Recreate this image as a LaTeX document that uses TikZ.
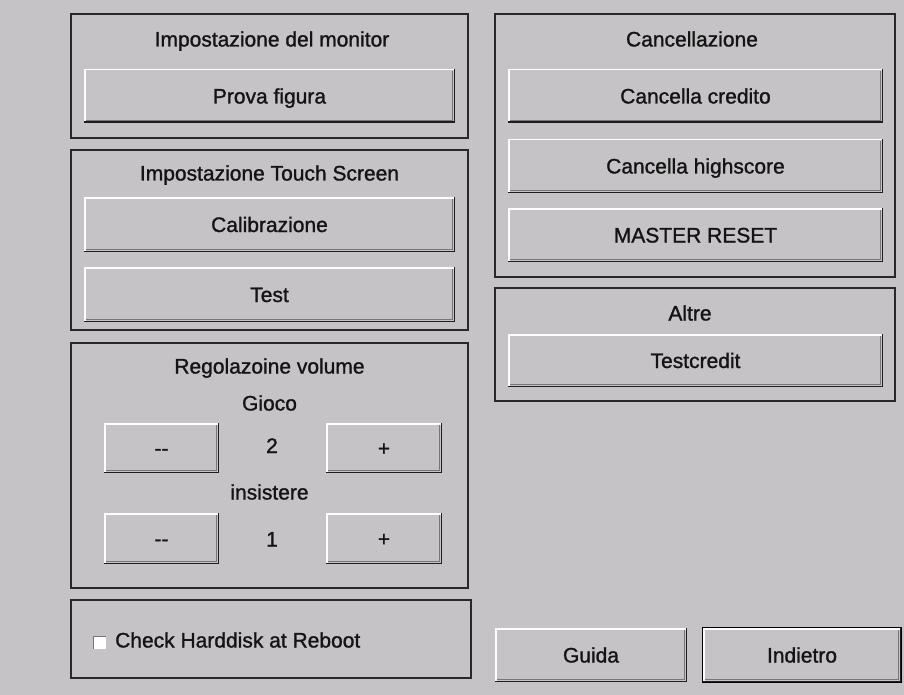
\documentclass[tikz,border=0pt]{standalone}
\usepackage{fontspec}
\setmainfont{Liberation Sans}[FakeBold=1.2]
\definecolor{bg}{RGB}{198,195,198}
\definecolor{dk}{RGB}{30,30,30}
\definecolor{md}{RGB}{120,118,120}
\definecolor{fr}{RGB}{40,40,40}
\begin{document}
\begin{tikzpicture}[x=1pt,y=-1pt,
  font=\fontsize{21}{25}\selectfont,
  frame/.style={draw=fr, line width=1.5pt, inner sep=0pt, outer sep=0pt},
  btn/.style={fill=bg, inner sep=0pt, outer sep=0pt, text height=15pt, text depth=0pt, text=black!92},
  lbl/.style={inner sep=0pt, text height=15pt, text depth=0pt, text=black!92}]
\fill[bg] (0,0) rectangle (904,695);
\useasboundingbox (0,0) rectangle (904,695);

% frames
\node[frame, minimum width=397, minimum height=124] (f1) at (269.5,76) {};
\node[frame, minimum width=397, minimum height=180] (f2) at (269.5,240) {};
\node[frame, minimum width=397, minimum height=245] (f3) at (269.5,465.5) {};
\node[frame, minimum width=400, minimum height=78] (f4) at (271,639) {};
\node[frame, minimum width=400, minimum height=263] (f5) at (695,145.5) {};
\node[frame, minimum width=400, minimum height=113] (f6) at (695,344.5) {};

% titles
\node[lbl] (t1) at (272,39) {Impostazione del monitor};
\node[lbl] (t2) at (269.5,173) {Impostazione Touch Screen};
\node[lbl] (t3) at (269.5,366) {Regolazoine volume};
\node[lbl] (t3a) at (269.5,403) {Gioco};
\node[lbl] (t3b) at (269.5,492) {insistere};
\node[lbl] (v1) at (272,445.5) {2};
\node[lbl] (v2) at (272,539) {1};
\node[lbl] (t5) at (692,39) {Cancellazione};
\node[lbl] (t6) at (690,313) {Altre};

% buttons
\node[btn, minimum width=371, minimum height=54] (prova) at (269.5,96) {Prova figura};
\node[btn, minimum width=371, minimum height=55] (calib) at (269.5,224.5) {Calibrazione};
\node[btn, minimum width=371, minimum height=55] (test) at (269.5,294.5) {Test};
\node[btn, minimum width=115, minimum height=50] (m1) at (161.5,448) {-\kern0pt-};
\node[btn, minimum width=116, minimum height=50] (p1) at (384,448) {+};
\node[btn, minimum width=115, minimum height=51] (m2) at (161.5,538.5) {-\kern0pt-};
\node[btn, minimum width=116, minimum height=51] (p2) at (384,538.5) {+};
\node[btn, minimum width=375, minimum height=54] (cc) at (695.5,96) {Cancella credito};
\node[btn, minimum width=375, minimum height=54] (ch) at (695.5,166) {Cancella highscore};
\node[btn, minimum width=375, minimum height=54] (mr) at (695.5,235) {MASTER RESET};
\node[btn, minimum width=375, minimum height=53] (tc) at (695.5,360.5) {Testcredit};
\node[btn, minimum width=192, minimum height=54] (guida) at (591,655) {Guida};
\node[btn, minimum width=198, minimum height=54] (ind) at (802,655) {Indietro};

% default button outline
\draw[black, line width=1.2pt] ([shift={(-0.6pt,-0.6pt)}]ind.south west) rectangle ([shift={(0.6pt,0.6pt)}]ind.north east);

% bevels
\foreach \n in {prova,calib,test,m1,p1,m2,p2,cc,ch,mr,tc,guida,ind}{
  \draw[white, line width=1.5pt]
    ([shift={(0.75pt,1.5pt)}]\n.south west) -- ([shift={(0.75pt,-0.75pt)}]\n.north west)
    -- ([shift={(-1.5pt,-0.75pt)}]\n.north east);
  \draw[md, line width=1pt]
    ([shift={(2pt,2.5pt)}]\n.south west) -- ([shift={(-2.5pt,2.5pt)}]\n.south east)
    -- ([shift={(-2.5pt,-2pt)}]\n.north east);
  \draw[dk, line width=1.5pt]
    ([shift={(0pt,0.75pt)}]\n.south west) -- ([shift={(-0.75pt,0.75pt)}]\n.south east)
    -- ([shift={(-0.75pt,0pt)}]\n.north east);
}

% checkbox
\node[fill=white, inner sep=0pt, outer sep=0pt, minimum size=13] (cb) at (99,642.5) {};
\draw[md, line width=1.2pt] ([shift={(0.6pt,0pt)}]cb.south west) |- ([shift={(0pt,-0.6pt)}]cb.north east);
\node[lbl, anchor=west] (chk) at (115,640) {Check Harddisk at Reboot};
\end{tikzpicture}
\end{document}
